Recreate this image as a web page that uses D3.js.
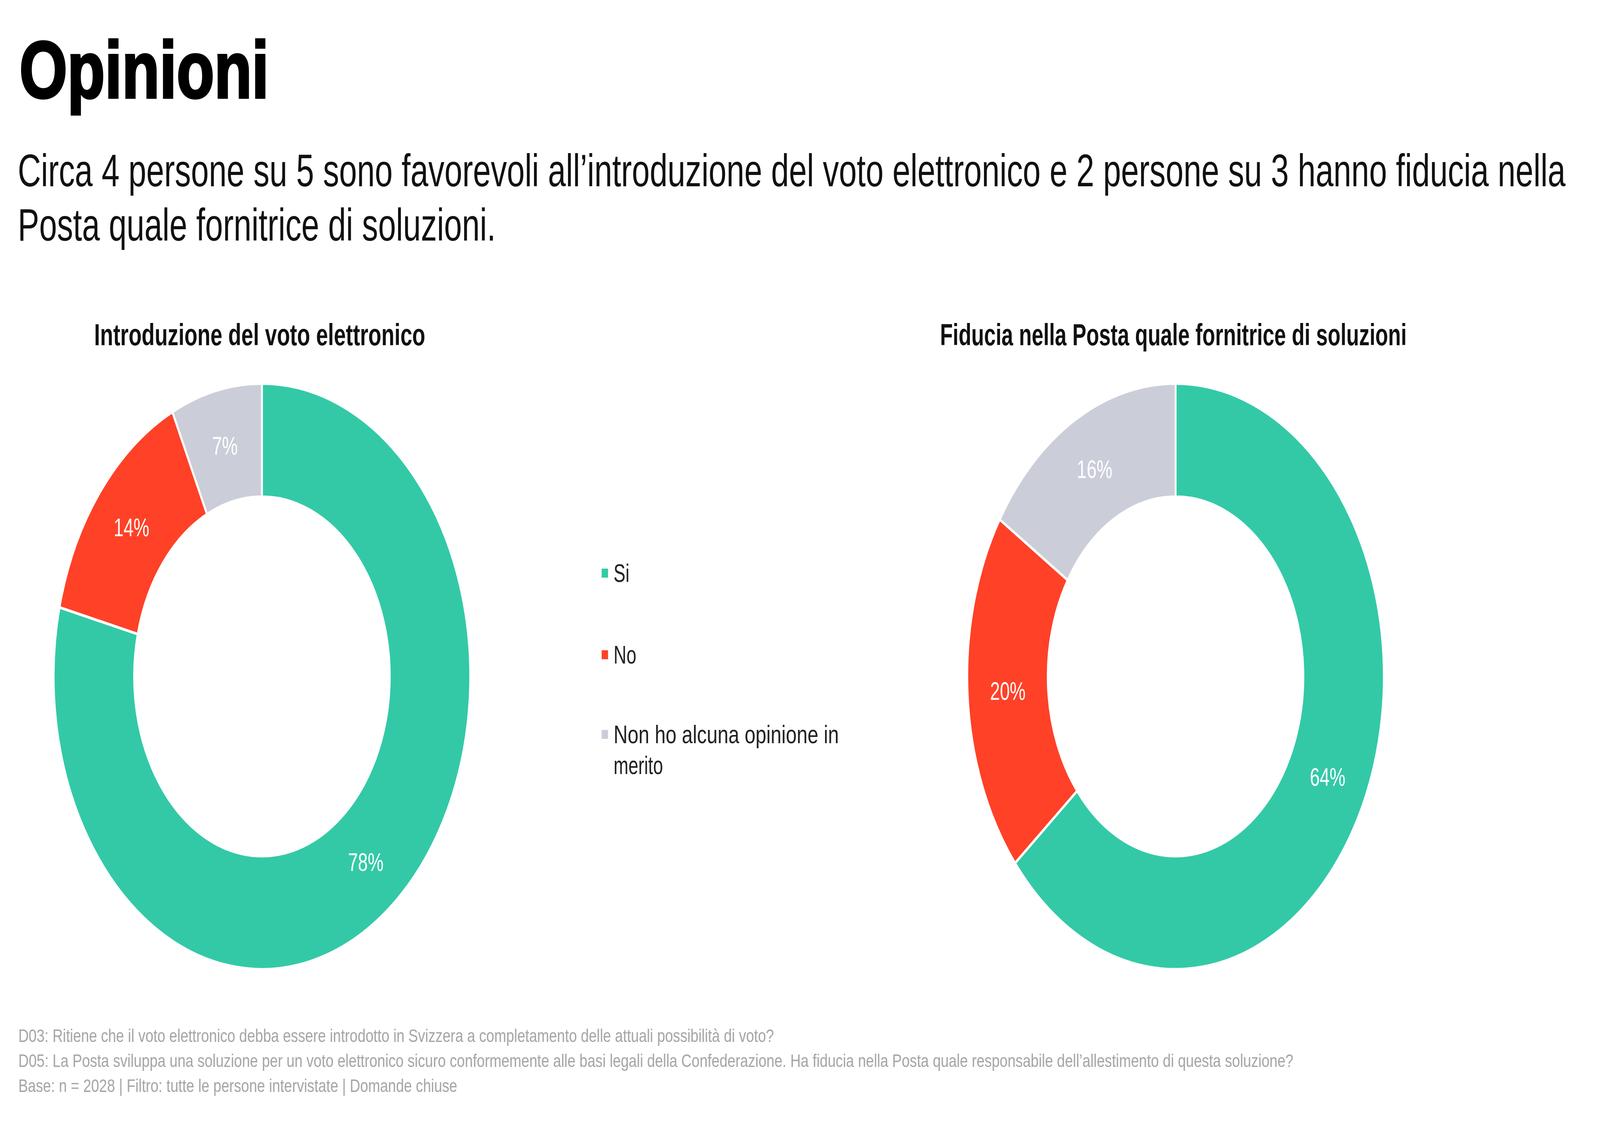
<!DOCTYPE html>
<html>
<head>
<meta charset="utf-8">
<script src="https://cdn.jsdelivr.net/npm/d3@7"></script>
<style>
  html, body { margin: 0; padding: 0; background: #fff; overflow: hidden; }
  svg { display: block; width: 100vw; height: 100vh; font-family: "Liberation Sans", Arial, sans-serif; }
</style>
</head>
<body>
<svg id="chart" viewBox="0 0 5760 2896" preserveAspectRatio="none"></svg>
<script>
// answers, in drawing order (same for both donuts)
const categories = ["Si", "No", "Non ho alcuna opinione in merito"]
const legendLines = [["Si"], ["No"], ["Non ho alcuna opinione in", "merito"]]
const sliceColors = ["#33C9A7", "#FF4127", "#CBCED9"]

// percentages
const votoValues = [78, 14, 7]
const fiduciaValues = [64, 20, 16]

const chartTitles = ["Introduzione del voto elettronico", "Fiducia nella Posta quale fornitrice di soluzioni"]

const pageTitle = "Opinioni"
const subtitleLines = [
  "Circa 4 persone su 5 sono favorevoli all’introduzione del voto elettronico e 2 persone su 3 hanno fiducia nella",
  "Posta quale fornitrice di soluzioni."
]
const footerLines = [
  "D03: Ritiene che il voto elettronico debba essere introdotto in Svizzera a completamento delle attuali possibilità di voto?",
  "D05: La Posta sviluppa una soluzione per un voto elettronico sicuro conformemente alle basi legali della Confederazione. Ha fiducia nella Posta quale responsabile dell’allestimento di questa soluzione?",
  "Base: n = 2028 | Filtro: tutte le persone intervistate | Domande chiuse"
]

const svg = d3.select("#chart")

// stretch a text to the width it has in the slide
const fit = (sel, w) => sel.attr("textLength", w).attr("lengthAdjust", "spacingAndGlyphs")

// header
svg.append("text")
  .attr("x", 70).attr("y", 250)
  .attr("font-weight", "bold")
  .attr("font-size", 207)
  .attr("fill", "#000").attr("stroke", "#000").attr("stroke-width", 6)
  .text(pageTitle)
  .call(fit, 898)

svg.append("g")
  .selectAll("text")
  .data(subtitleLines)
  .join("text")
  .attr("x", 64)
  .attr("y", (d, i) => 477 + i * 139)
  .attr("font-size", 116)
  .attr("fill", "#111")
  .text(d => d)
  .each(function(d, i) { d3.select(this).call(fit, i == 0 ? 5572 : 1721) })

// donuts
const outerR = 750, innerR = 460
const pie = d3.pie().sort(null).value(d => d)
const arc = d3.arc().innerRadius(innerR).outerRadius(outerR)
const color = d3.scaleOrdinal().domain(categories).range(sliceColors)

const drawDonut = (values, title, cx, cy, titleW) => {
  const g = svg.append("g").attr("transform", `translate(${cx},${cy})`)
  const slices = pie(values).map((s, i) => ({...s, cat: categories[i]}))

  g.selectAll("path")
    .data(slices)
    .join("path")
    .attr("d", arc)
    .attr("fill", d => color(d.cat))
    .attr("stroke", "#fff")
    .attr("stroke-width", 7)

  g.selectAll("text.lbl")
    .data(slices)
    .join("text")
    .attr("class", "lbl")
    .attr("transform", d => `translate(${arc.centroid(d)})`)
    .attr("text-anchor", "middle")
    .attr("dy", "0.35em")
    .attr("font-size", 64)
    .attr("fill", "#fff")
    .text(d => d.data + "%")

  svg.append("text")
    .attr("x", cx - 8).attr("y", 884)
    .attr("text-anchor", "middle")
    .attr("font-weight", "bold")
    .attr("font-size", 77)
    .attr("fill", "#111")
    .text(title)
    .call(fit, titleW)
}

drawDonut(votoValues, chartTitles[0], 943, 1732, 1192)
drawDonut(fiduciaValues, chartTitles[1], 4232, 1732, 1680)

// legend
const legendY = [1490, 1699, 1903]
const legend = svg.append("g")
legend.selectAll("rect")
  .data(categories)
  .join("rect")
  .attr("x", 2166)
  .attr("y", (d, i) => legendY[i] - 34)
  .attr("width", 23).attr("height", 23)
  .attr("fill", d => color(d))

legend.selectAll("text")
  .data(legendLines)
  .join("text")
  .attr("x", 2209)
  .attr("y", (d, i) => legendY[i])
  .attr("font-size", 64)
  .attr("fill", "#222")
  .selectAll("tspan")
  .data(d => d)
  .join("tspan")
  .attr("x", 2209)
  .attr("dy", (d, i) => i ? 79 : 0)
  .text(d => d)
  .each(function(d) { if (d.length > 20) d3.select(this).call(fit, 811) })

// footnotes
const footerW = [2720, 4590, 1580]
svg.append("g")
  .selectAll("text")
  .data(footerLines)
  .join("text")
  .attr("x", 66)
  .attr("y", (d, i) => 2668 + i * 64)
  .attr("font-size", 46)
  .attr("fill", "#a6a6a6")
  .text(d => d)
  .each(function(d, i) { d3.select(this).call(fit, footerW[i]) })
</script>
</body>
</html>
